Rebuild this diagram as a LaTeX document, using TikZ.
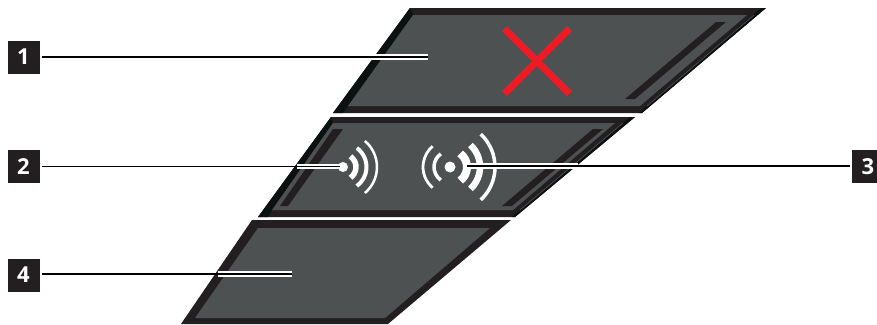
\documentclass[tikz,border=0pt]{standalone}
\usepackage{fontspec}
\setmainfont{Open Sans}
\usetikzlibrary{positioning}

\begin{document}
\begin{tikzpicture} [x=1pt,y=-1pt]
	 \tikzstyle{rim}=[fill={rgb,255:red,35;green,31;blue,32}]
	 \tikzstyle{rimdark}=[fill={rgb,255:red,10;green,17;blue,16}]
	 \tikzstyle{face}=[fill={rgb,255:red,77;green,81;blue,82}]
	 \tikzstyle{seam}=[draw={rgb,255:red,77;green,81;blue,82},line width=0.7pt]
	 \tikzstyle{cross}=[draw={rgb,255:red,237;green,28;blue,36},line width=7pt]
	 \tikzstyle{badge}=[fill={rgb,255:red,35;green,31;blue,32},text=white,minimum width=32pt,minimum height=33pt,inner sep=0pt,font=\fontsize{22}{22}\selectfont\bfseries]
	 \tikzstyle{wave}=[draw=white,line cap=butt]
	 \tikzstyle{halo}=[draw=white,line width=5.2pt]
	 \tikzstyle{leader}=[draw,line width=1.3pt,black]
	 \useasboundingbox (0,0) rectangle (877,324);
	 \clip (0,0) rectangle (877,324);

	 % top panel
	 \fill[rim] (410,8) -- (766,8) -- (642,113) -- (333,113) -- cycle;
	 \fill[rimdark] (410,8) -- (413,15) -- (348,106) -- (343,113) -- (333,113) -- cycle;
	 \fill[rimdark] (766,8) -- (642,113) -- (639,113) -- (761,8) -- cycle;
	 \fill[face] (413,15) -- (747,15) -- (640,106) -- (348,106) -- cycle;
	 \fill[rim] (716,22) -- (726,22) -- (635,99) -- (625,99) -- cycle;
	 \draw[seam] (754,15) -- (647,106);
	 \draw[cross] (504.5,28.5) -- (569.5,93.5);
	 \draw[cross] (569.5,28.5) -- (504.5,93.5);

	 % middle panel
	 \fill[rim] (331,117) -- (635,117) -- (515,217) -- (258,217) -- cycle;
	 \fill[rimdark] (331,117) -- (333,123) -- (272,210) -- (268,217) -- (258,217) -- cycle;
	 \fill[rimdark] (635,117) -- (515,217) -- (512,217) -- (630,117) -- cycle;
	 \fill[face] (333,123) -- (615,123) -- (513,210) -- (272,210) -- cycle;
	 \fill[rim] (333,129) -- (343,129) -- (288,206) -- (280,206) -- cycle;
	 \fill[rim] (593,129) -- (603,129) -- (512,206) -- (502,206) -- cycle;
	 \draw[seam] (623,123) -- (520,210);

	 % bottom panel
	 \fill[rim] (252,220) -- (511,220) -- (388,324) -- (181,324) -- cycle;
	 \fill[face] (258,228) -- (490,228) -- (385,318) -- (195,318) -- cycle;

	 % wave signs
	 \node[circle,fill=white,minimum size=10pt,inner sep=0pt] (d1) at (343,167) {};
	 \draw[wave,line width=5.5pt] (d1.center) ++(-55:13) arc (-55:55:13);
	 \draw[wave,line width=4pt] (d1.center) ++(-54:23.5) arc (-54:54:23.5);
	 \draw[wave,line width=2.5pt] (d1.center) ++(-50:34) arc (-50:50:34);
	 \node[circle,fill=white,minimum size=11pt,inner sep=0pt] (d2) at (450,167) {};
	 \draw[wave,line width=3.5pt] (d2.center) ++(125:16) arc (125:235:16);
	 \draw[wave,line width=2.8pt] (d2.center) ++(130:27) arc (130:230:27);
	 \draw[wave,line width=8pt] (d2.center) ++(-53:17) arc (-53:53:17);
	 \draw[wave,line width=6.5pt] (d2.center) ++(-47:30) arc (-47:47:30);
	 \draw[wave,line width=3.5pt] (d2.center) ++(-47:45) arc (-47:47:45);

	 % callouts
	 \node[badge] (b1) at (23.5,57) {1};
	 \node[badge] (b2) at (23.5,166.5) {2};
	 \node[badge] (b3) at (868,166.5) {3};
	 \node[badge] (b4) at (23.5,275) {4};
	 \coordinate (c1) at (428,57);
	 \coordinate (c2) at (340,166.5);
	 \coordinate (c3) at (467,166);
	 \coordinate (c4) at (292,274);
	 \coordinate (h1) at (372,57);
	 \coordinate (h2) at (297,166.5);
	 \coordinate (h3) at (578,166);
	 \coordinate (h4) at (218,274);
	 \coordinate (g1) at ([xshift=2pt]b1.east|-c1);
	 \coordinate (g2) at ([xshift=2pt]b2.east|-c2);
	 \coordinate (g3) at ([xshift=-2pt]b3.west|-c3);
	 \coordinate (g4) at ([xshift=2pt]b4.east|-c4);

	 \draw[halo] (h1) -- (c1);
	 \draw[halo] (h2) -- (c2);
	 \draw[halo] (h3) -- (c3);
	 \draw[halo] (h4) -- (c4);
	 \draw[leader] (g1) -- (c1);
	 \draw[leader] (g2) -- (c2);
	 \draw[leader] (g3) -- (c3);
	 \draw[leader] (g4) -- (c4);
\end{tikzpicture}
\end{document}
